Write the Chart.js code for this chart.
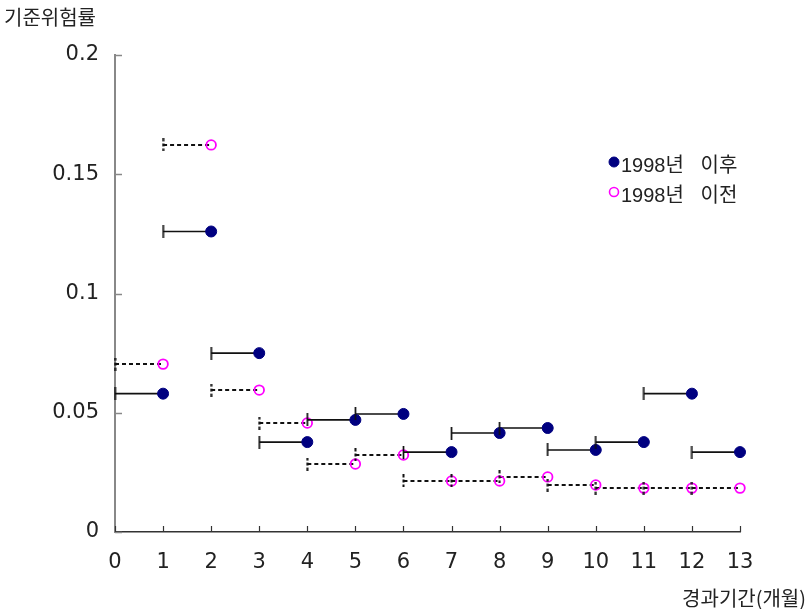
<!DOCTYPE html>
<html>
<head>
<meta charset="utf-8">
<script src="https://cdn.jsdelivr.net/npm/chart.js@4"></script>
<style>
  html, body { margin: 0; padding: 0; background: #fff; }
  #wrap { width: 809px; height: 609px; position: relative; }
</style>
</head>
<body>
<div id="wrap"><canvas id="c" width="809" height="609"></canvas></div>
<script>
// ---- data ----
const months = [1, 2, 3, 4, 5, 6, 7, 8, 9, 10, 11, 12, 13];
const after1998 = [0.058, 0.126, 0.075, 0.0377, 0.047, 0.0495, 0.0335, 0.0415, 0.0436, 0.0344, 0.0377, 0.058, 0.0335];
const before1998 = [0.0704, 0.1623, 0.0595, 0.0457, 0.0285, 0.0323, 0.0214, 0.0214, 0.0231, 0.0197, 0.0184, 0.0184, 0.0184];
const seriesLabels = ['1998년   이후', '1998년   이전'];
const xTicks = [0, 1, 2, 3, 4, 5, 6, 7, 8, 9, 10, 11, 12, 13];
const yTicks = [0, 0.05, 0.1, 0.15, 0.2];
const yTitle = '기준위험률';
const xTitle = '경과기간(개월)';

// build step segments: (k-1, v) -> (k, v), then a break
function steps(vals) {
  const out = [];
  months.forEach((m, i) => {
    out.push({ x: m - 1, y: vals[i] });
    out.push({ x: m, y: vals[i] });
    out.push({ x: m, y: null });
  });
  return out;
}

function tickImage(dashed) {
  const c = document.createElement('canvas');
  c.width = 3; c.height = 13;
  const g = c.getContext('2d');
  g.strokeStyle = '#111';
  g.lineWidth = dashed ? 2 : 1.7;
  if (dashed) g.setLineDash([3, 2]);
  g.beginPath();
  g.moveTo(1.5, 0); g.lineTo(1.5, 13);
  g.stroke();
  return c;
}
const solidTick = tickImage(false);
const dashTick = tickImage(true);

const NAVY = '#000080';
const MAGENTA = '#ff00ff';

const inwardTicks = {
  id: 'inwardTicks',
  afterDatasetsDraw(chart) {
    const ctx = chart.ctx;
    const xs = chart.scales.x, ys = chart.scales.y;
    ctx.save();
    ctx.strokeStyle = '#888';
    ctx.lineWidth = 1.5;
    ys.ticks.forEach(t => {
      const y = Math.round(ys.getPixelForValue(t.value)) + 0.5;
      ctx.beginPath(); ctx.moveTo(ys.right, y); ctx.lineTo(ys.right + 7, y); ctx.stroke();
    });
    ctx.strokeStyle = '#333';
    ctx.lineWidth = 1.2;
    xs.ticks.forEach(t => {
      const x = Math.round(xs.getPixelForValue(t.value)) + 0.5;
      ctx.beginPath(); ctx.moveTo(x, xs.top); ctx.lineTo(x, xs.top - 6); ctx.stroke();
    });
    // titles
    ctx.fillStyle = '#222';
    ctx.font = '20px "Noto Sans CJK KR", sans-serif';
    ctx.textBaseline = 'middle';
    ctx.textAlign = 'left';
    ctx.fillText(yTitle, 4, 17);
    ctx.textAlign = 'right';
    ctx.fillText(xTitle, 806, 598);
    // legend
    const items = [
      { label: chart.data.datasets[0].label, y: 163, fill: NAVY, stroke: NAVY, r: 5 },
      { label: chart.data.datasets[1].label, y: 193, fill: 'rgba(0,0,0,0)', stroke: MAGENTA, r: 4.5 }
    ];
    items.forEach(it => {
      ctx.beginPath();
      ctx.arc(614, it.y - 1, it.r, 0, Math.PI * 2);
      ctx.fillStyle = it.fill; ctx.fill();
      ctx.strokeStyle = it.stroke; ctx.lineWidth = it.fill === NAVY ? 1 : 1.6; ctx.stroke();
      ctx.fillStyle = '#222';
      ctx.textAlign = 'left';
      ctx.font = '20px "Liberation Sans", "Noto Sans CJK KR", sans-serif';
      ctx.fillText(it.label, 621, it.y + 3);
    });
    ctx.restore();
  }
};

new Chart(document.getElementById('c'), {
  type: 'scatter',
  data: {
    datasets: [
      {
        label: seriesLabels[0],
        data: steps(after1998),
        showLine: true,
        spanGaps: false,
        borderColor: '#111',
        borderWidth: 1.6,
        clip: false,
        pointStyle: c => (c.dataIndex % 3 === 0 ? solidTick : 'circle'),
        pointRadius: c => (c.dataIndex % 3 === 2 ? 0 : 5.5),
        pointBackgroundColor: NAVY,
        pointBorderColor: NAVY,
        pointBorderWidth: 1,
        pointHoverRadius: 0
      },
      {
        label: seriesLabels[1],
        data: steps(before1998),
        showLine: true,
        spanGaps: false,
        borderColor: '#111',
        borderWidth: 2,
        borderDash: [4, 3],
        clip: false,
        pointStyle: c => (c.dataIndex % 3 === 0 ? dashTick : 'circle'),
        pointRadius: c => (c.dataIndex % 3 === 2 ? 0 : 4.8),
        pointBackgroundColor: 'rgba(0,0,0,0)',
        pointBorderColor: MAGENTA,
        pointBorderWidth: 1.8,
        pointHoverRadius: 0
      }
    ]
  },
  options: {
    responsive: false,
    animation: false,
    events: [],
    layout: { padding: { left: 0, top: 55, right: 69, bottom: 0 } },
    plugins: { legend: { display: false }, tooltip: { enabled: false } },
    scales: {
      x: {
        type: 'linear',
        min: 0, max: 13,
        afterFit: s => { s.height = 77; },
        afterBuildTicks: s => { s.ticks = xTicks.map(v => ({ value: v })); },
        grid: { display: true, drawOnChartArea: false, drawTicks: false },
        border: { display: true, color: '#333', width: 1.5 },
        ticks: {
          padding: 18,
          color: '#222',
          font: { family: '"DejaVu Sans"', size: 21 },
          callback: v => String(v)
        }
      },
      y: {
        type: 'linear',
        min: 0, max: 0.2,
        afterFit: s => { s.width = 115; },
        afterBuildTicks: s => { s.ticks = yTicks.map(v => ({ value: v })); },
        grid: { display: true, drawOnChartArea: false, drawTicks: false },
        border: { display: true, color: '#888', width: 2 },
        ticks: {
          padding: 16,
          color: '#222',
          font: { family: '"DejaVu Sans"', size: 21 },
          callback: v => String(v)
        }
      }
    }
  },
  plugins: [inwardTicks]
});
</script>
</body>
</html>
